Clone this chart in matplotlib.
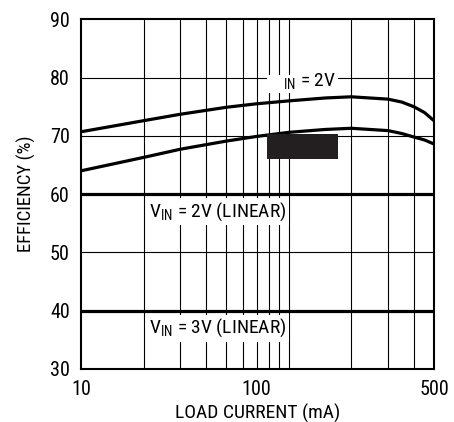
#!/usr/bin/env python3
"""
Efficiency vs load current, redrawn from a datasheet plot.
"""
import matplotlib
matplotlib.use("Agg")
import matplotlib.pyplot as plt
from matplotlib import font_manager
from matplotlib.patches import Rectangle

# Load current (mA) where the curves were read
load_ma = [10, 20, 30, 50, 70, 100, 150, 200, 300, 350, 400, 450, 500]
# Upper curve (label partly hidden: "IN = 2V")
eff_upper = [70.7, 72.6, 73.7, 74.9, 75.5, 76.0, 76.5, 76.7, 76.3, 75.8, 75.0, 74.0, 72.6]
# Lower curve (its label is blacked out in the source)
eff_lower = [64.0, 66.3, 67.7, 69.1, 69.9, 70.6, 71.1, 71.3, 70.9, 70.4, 69.8, 69.3, 68.6]

# Linear regulator efficiency, flat across the range
linear_x = [10, 500]
linear_2v = [60, 60]
linear_3v = [40, 40]

x_ticks = [10, 70, 500]          # the "100" label sits on the 70 line in the source
x_tick_labels = ["10", "100", "500"]
y_ticks = [30, 40, 50, 60, 70, 80, 90]
x_grid = [20, 30, 40, 50, 60, 70, 80, 90, 100, 200, 300, 400]
y_grid = [50, 70, 80]

# blacked-out label and the white patch that hides the "V" of V_IN
black_box = (79, 66.1, 172, 70.3)
white_box = (79, 77.4, 172, 80.4)


def pick_font():
    names = {f.name for f in font_manager.fontManager.ttflist}
    for name in ["Roboto Condensed", "Archivo Narrow", "PT Sans Narrow", "Liberation Sans"]:
        if name in names:
            return name
    return "DejaVu Sans"


def main():
    font = pick_font()
    plt.rcParams["font.family"] = [font, "DejaVu Sans"]
    plt.rcParams["mathtext.fontset"] = "custom"
    plt.rcParams["mathtext.rm"] = font

    fig = plt.figure(figsize=(4.54, 4.22), dpi=100)
    ax = fig.add_axes([0.1784, 0.1256, 0.7775, 0.8287])
    ax.set_xscale("log")
    ax.set_xlim(10, 500)
    ax.set_ylim(30, 90)

    for xv in x_grid:
        ax.axvline(xv, color="black", lw=0.8, zorder=1)
    for yv in y_grid:
        ax.axhline(yv, color="black", lw=0.8, zorder=1)

    ax.plot(load_ma, eff_upper, color="black", lw=2.3, zorder=4, solid_capstyle="butt")
    ax.plot(load_ma, eff_lower, color="black", lw=2.3, zorder=4, solid_capstyle="butt")
    ax.plot(linear_x, linear_2v, color="black", lw=2.3, zorder=4, solid_capstyle="butt")
    ax.plot(linear_x, linear_3v, color="black", lw=2.3, zorder=4, solid_capstyle="butt")

    x0, y0, x1, y1 = white_box
    ax.add_patch(Rectangle((x0, y0), x1 - x0, y1 - y0, facecolor="white",
                           edgecolor="none", zorder=2))
    x0, y0, x1, y1 = black_box
    ax.add_patch(Rectangle((x0, y0), x1 - x0, y1 - y0, facecolor="#231f20",
                           edgecolor="none", zorder=5))

    ax.text(94, 79.2, r"${}_{\mathregular{IN}}$ = 2V", fontsize=14,
            ha="left", va="center", zorder=3)
    box = dict(facecolor="white", edgecolor="none", pad=1.5)
    ax.text(45.5, 57.0, r"V$_{\mathregular{IN}}$ = 2V (LINEAR)", fontsize=14,
            ha="center", va="center", bbox=box, zorder=3)
    ax.text(45.5, 37.0, r"V$_{\mathregular{IN}}$ = 3V (LINEAR)", fontsize=14,
            ha="center", va="center", bbox=box, zorder=3)

    ax.set_xticks(x_ticks)
    ax.set_xticklabels(x_tick_labels)
    ax.xaxis.set_minor_locator(matplotlib.ticker.NullLocator())
    ax.set_yticks(y_ticks)
    ax.tick_params(axis="both", length=0, labelsize=14.5)
    ax.tick_params(axis="x", pad=8)
    ax.tick_params(axis="y", pad=8)

    ax.set_xlabel("LOAD CURRENT (mA)", fontsize=14, labelpad=3.5)
    ax.set_ylabel("EFFICIENCY (%)", fontsize=13.5, labelpad=10)

    for side in ax.spines.values():
        side.set_linewidth(1.5)
        side.set_zorder(6)

    fig.savefig("out.png", dpi=100)
    plt.close(fig)


if __name__ == "__main__":
    main()
